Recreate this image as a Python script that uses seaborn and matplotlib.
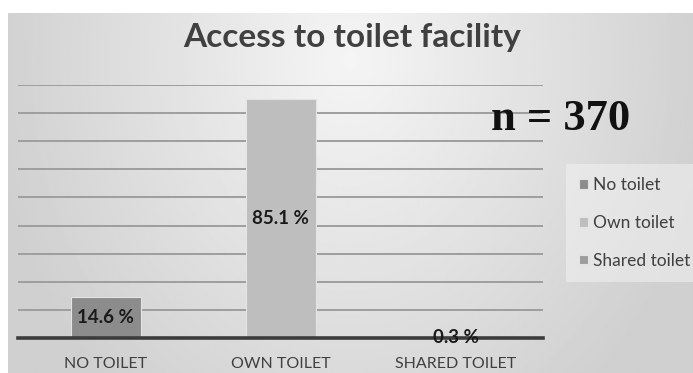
import numpy as np
import pandas as pd
import matplotlib
matplotlib.use("Agg")
import matplotlib.pyplot as plt
import seaborn as sns

# Data
categories = ["NO TOILET", "OWN TOILET", "SHARED TOILET"]
legend_names = ["No toilet", "Own toilet", "Shared toilet"]
percentages = [14.6, 85.1, 0.3]
bar_colors = ["#8c8c8c", "#bebebe", "#9d9d9d"]
y_ticks = list(range(0, 100, 10))
sample_note = "n = 370"
title_text = "Access to toilet facility"

sns.set_theme(style="white")
plt.rcParams["font.family"] = ["Lato", "DejaVu Sans"]

W, H = 693, 373
fig = plt.figure(figsize=(W / 100, H / 100), dpi=100)
fig.patch.set_facecolor("white")

# Soft radial gray background of the chart area
bg = fig.add_axes([8 / W, 0, 1 - 8 / W, (H - 13) / H])
bg.set_axis_off()
gx, gy = np.meshgrid(np.linspace(8, W, 400), np.linspace(13, H, 240))
r = np.sqrt(((gx - 350) / 350) ** 2 + ((gy - 60) / 420) ** 2)
shade = np.clip(0.96 - 0.14 * r, 0.815, 1.0)
bg.imshow(shade, cmap="gray", vmin=0, vmax=1, aspect="auto",
          extent=[0, 1, 0, 1], origin="upper", interpolation="bilinear")
bg.set_xlim(0, 1)
bg.set_ylim(0, 1)

# Plot area
x0, x1 = 18, 543
ytop, ybot = 85, 338
ax = fig.add_axes([x0 / W, (H - ybot) / H, (x1 - x0) / W, (ybot - ytop) / H])
ax.patch.set_alpha(0)

df = pd.DataFrame({"category": categories, "pct": percentages, "name": legend_names})
sns.barplot(data=df, x="category", y="pct", hue="name", palette=bar_colors,
            width=0.4, dodge=False, legend=True, ax=ax, zorder=3,
            edgecolor="#e4e4e4", linewidth=0.8)

ax.set_ylim(0, 90)
ax.set_xlim(-0.5, 2.5)
ax.set_yticks(y_ticks)
ax.yaxis.grid(True, color="#9e9e9e", linewidth=1.4, zorder=1)
ax.set_axisbelow(True)
ax.tick_params(axis="y", left=False, labelleft=False)
ax.tick_params(axis="x", bottom=False, labelsize=11.5, labelcolor="#404040", pad=8)
ax.set_xlabel("")
ax.set_ylabel("")
for s in ["top", "right", "left"]:
    ax.spines[s].set_visible(False)
ax.spines["bottom"].set_color("#3c3c3c")
ax.spines["bottom"].set_linewidth(2.6)
ax.spines["bottom"].set_zorder(5)

# Value labels centred in each bar
for i, v in enumerate(percentages):
    ax.text(i, v / 2, f"{v} %", ha="center", va="center", fontsize=13.5,
            fontweight="bold", color="#1a1a1a", zorder=6)

# Legend
handles, labels = ax.get_legend_handles_labels()
ax.legend_.remove()
leg = fig.legend(handles, labels, loc="center left",
                 bbox_to_anchor=(566 / W, 1 - 223 / H), frameon=True,
                 fontsize=12.5, handlelength=0.5, handleheight=0.5,
                 handletextpad=0.3, labelspacing=1.25, borderpad=0.75,
                 borderaxespad=0, fancybox=False, labelcolor="#404040")
leg.get_frame().set_facecolor("#f2f2f2")
leg.get_frame().set_alpha(0.55)
leg.get_frame().set_edgecolor("none")

# Title and sample size note
fig.text(352 / W, 1 - 38 / H, title_text, ha="center", va="center",
         fontsize=24, fontweight="bold", color="#404040")
fig.text(561 / W, 1 - 119 / H, sample_note, ha="center", va="center",
         fontsize=32, fontweight="bold", color="#111111",
         family=["Liberation Serif", "DejaVu Serif"])

fig.savefig("out.png", dpi=100)
